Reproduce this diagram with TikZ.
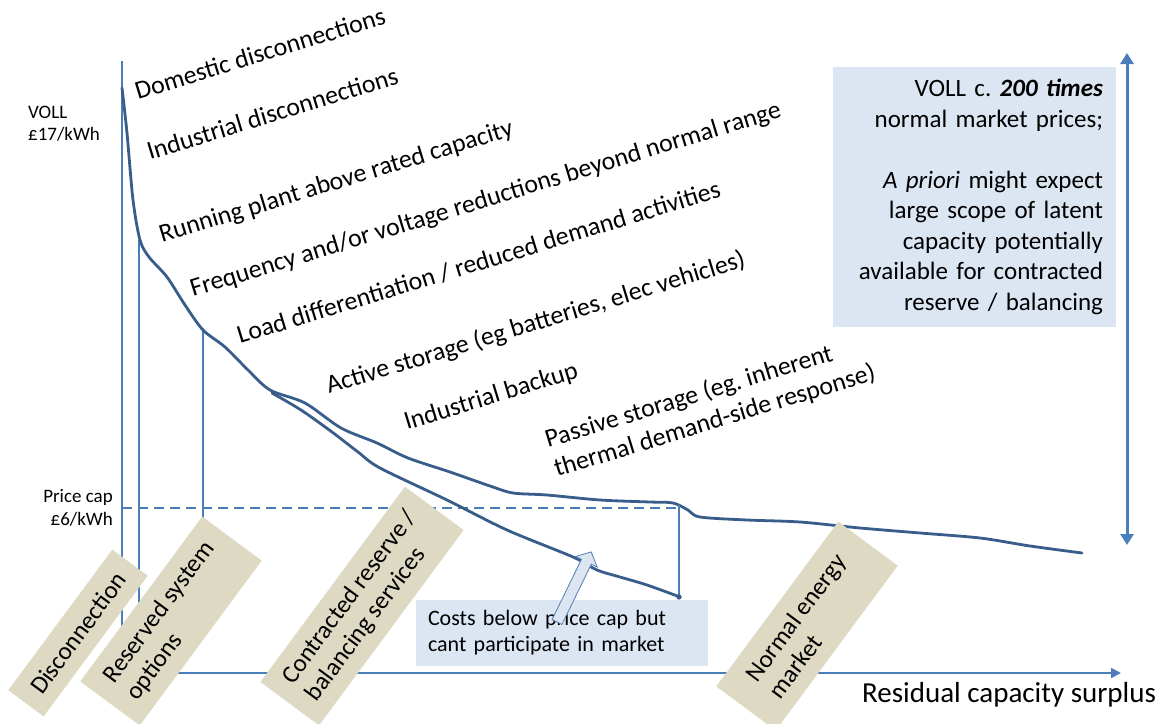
\documentclass[tikz,border=0pt]{standalone}
\usepackage{fontspec}
\setmainfont{Carlito}
\usetikzlibrary{arrows.meta}
\definecolor{axisblue}{HTML}{4A7EBB}
\definecolor{curveblue}{HTML}{385D8A}
\definecolor{tanbox}{HTML}{DDD9C3}
\definecolor{lightblue}{HTML}{DCE6F2}
\frenchspacing
\begin{document}
\begin{tikzpicture}[x=1pt,y=-1pt,
  lbl/.style={font=\fontsize{25.8}{30}\selectfont, anchor=base west, inner sep=0pt, rotate=17},
  tanlbl/.style={fill=tanbox, rotate=53.5, align=left, font=\fontsize{25}{29}\selectfont, inner sep=0pt, anchor=center},
  axisline/.style={draw=axisblue, line width=2pt},
  thinline/.style={draw=axisblue, line width=1.3pt},
  curve/.style={draw=curveblue, line width=2.8pt, line cap=round, line join=round},
  infobox/.style={fill=lightblue, inner sep=0pt},
  smalltxt/.style={font=\fontsize{19}{22}\selectfont, inner sep=0pt}
]
\useasboundingbox (0,0) rectangle (1161,723);
\fill[white] (0,0) rectangle (1161,723);

% coordinates
\coordinate (origin) at (122,673);
\coordinate (ytop) at (122,61);
\coordinate (xend) at (1121,673);
\coordinate (v1top) at (139,240);
\coordinate (v1bot) at (139,673);
\coordinate (v2top) at (203,330);
\coordinate (v2bot) at (203,530);
\coordinate (capL) at (122,508);
\coordinate (capR) at (676,508);
\coordinate (v3top) at (679,505);
\coordinate (v3bot) at (679,597);
\coordinate (arrT) at (1127,53);
\coordinate (arrB) at (1127,545);

% axes and guide lines
\draw[thinline] (v1top) -- (v1bot);
\draw[thinline] (v2top) -- (v2bot);
\draw[axisline, dashed, dash pattern=on 10pt off 6pt] (capL) -- (capR);
\draw[axisline] (ytop) -- (origin);
\draw[axisline, -{Triangle[length=10pt,width=10pt]}] (origin) -- (xend);

% curves
\draw[curve] plot[smooth, tension=0.5] coordinates {
 (122,88) (127,133) (133,200) (140,240) (149,257) (167,277) (185,305) (203,330)
 (225,347) (248,370) (270,390) (305,403) (341,428) (377,443) (408,458) (450,472)
 (490,486) (513,493) (547,495) (600,500) (650,502) (673,503) (688,510) (700,517)
 (747,520) (800,522) (860,528) (920,533) (980,538) (1030,546) (1082,553)};
\draw[curve] plot[smooth, tension=0.5] coordinates {
 (272,393) (301,410) (332,432) (358,452) (380,468) (447,500) (507,530) (573,557)
 (597,570) (620,577) (647,585) (680,597)};
\draw[thinline] (v3top) -- (v3bot);
\fill[curveblue] (v3bot) circle (2.6pt);

% double arrow
\draw[draw=axisblue, line width=3pt, {Triangle[length=11pt,width=13pt]}-{Triangle[length=11pt,width=13pt]}] (arrT) -- (arrB);

% tan boxes
\node[tanlbl, minimum width=175pt, minimum height=44pt] (disc) at (78,633) {Disconnection};
\node[tanlbl, minimum width=205pt, minimum height=74pt] (rso) at (171,621) {Reserved system\\options};
\node[tanlbl, minimum width=243pt, minimum height=73pt] (crb) at (362,606) {Contracted reserve /\\balancing services};
\node[tanlbl, minimum width=205pt, minimum height=74pt] (nem) at (807,626) {Normal energy\\market};

% light blue boxes
\node[infobox, minimum width=283pt, minimum height=260pt, text width=257pt, align=right,
      font=\fontsize{25}{30.5}\selectfont] (voll) at (974.5,197)
 {VOLL c. \textbf{\textit{200 times}}\\normal market prices;\\[30.5pt]\textit{A priori} might expect\\large scope of latent\\capacity potentially\\available for contracted\\reserve / balancing};
\node[infobox, minimum width=292pt, minimum height=66pt, text width=268pt, align=left,
      font=\fontsize{22}{26}\selectfont] (costs) at (562,633)
 {Costs below price cap but\\cant participate in market};

% block arrow
\begin{scope}[shift={(557,622)}, rotate=64]
\filldraw[fill=lightblue, draw=axisblue!80!gray, line width=0.8pt]
 (0,-5.5) -- (67,-5.5) -- (67,-12) -- (78,0) -- (67,12) -- (67,5.5) -- (0,5.5) -- cycle;
\end{scope}

% axis labels
\node[smalltxt, anchor=base west] (vollA) at (28,118) {VOLL};
\node[smalltxt, anchor=base west] (vollB) at (28,140) {£17/kWh};
\node[smalltxt, anchor=base east] (capA) at (113,502) {Price cap};
\node[smalltxt, anchor=base east] (capB) at (113,525) {£6/kWh};
\node[font=\fontsize{29}{34}\selectfont, inner sep=0pt, anchor=base west] (xlab) at (862,702) {Residual capacity surplus};

% rotated labels
\node[lbl] (l1) at (138,100) {Domestic disconnections};
\node[lbl] (l2) at (150,160) {Industrial disconnections};
\node[lbl] (l3) at (162,243) {Running plant above rated capacity};
\node[lbl] (l4) at (193,297) {Frequency and/or voltage reductions beyond normal range};
\node[lbl] (l5) at (240,344) {Load differentiation / reduced demand activities};
\node[lbl] (l6) at (329,394) {Active storage (eg batteries, elec vehicles)};
\node[lbl] (l7) at (407,430) {Industrial backup};
\node[lbl] (l8) at (548,448) {Passive storage (eg. inherent};
\node[lbl] (l9) at (557,477) {thermal demand-side response)};
\end{tikzpicture}
\end{document}
